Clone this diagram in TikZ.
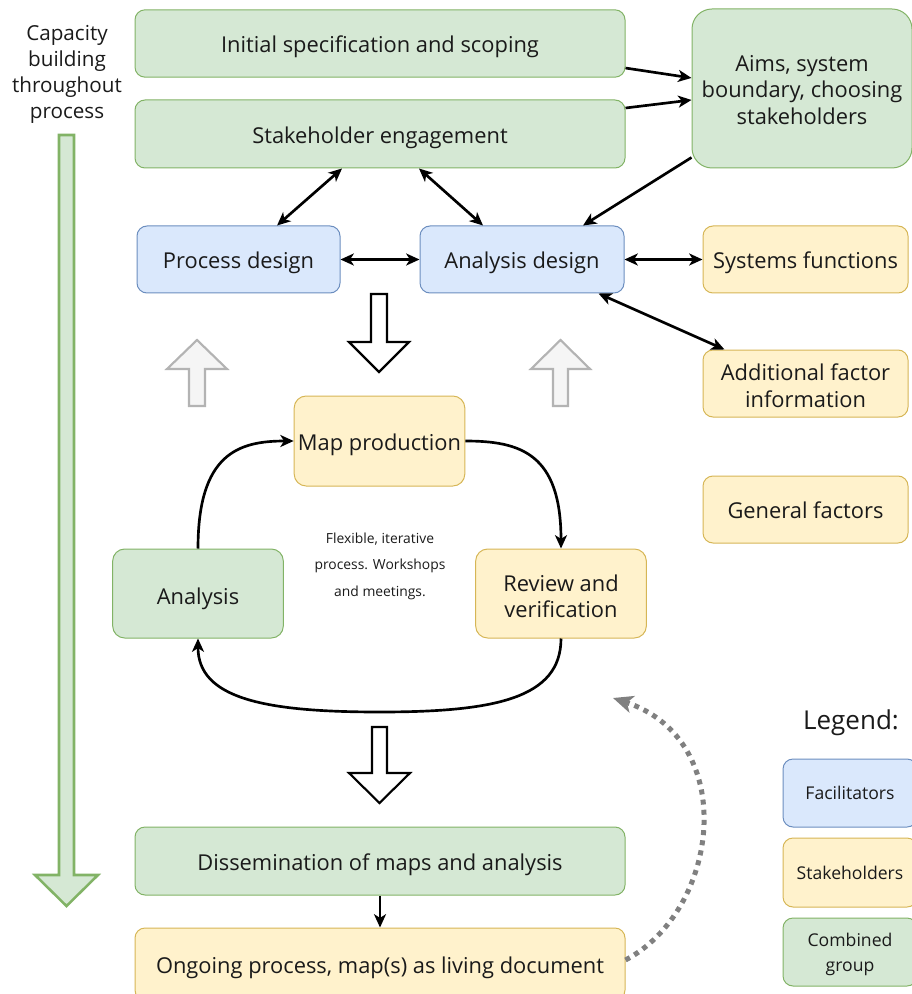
\documentclass[tikz,border=0pt]{standalone}
\usepackage{fontspec}
\setmainfont{Open Sans}
\usetikzlibrary{arrows.meta}
\definecolor{gfill}{HTML}{D5E8D4}
\definecolor{gline}{HTML}{82B366}
\definecolor{bfill}{HTML}{DAE8FC}
\definecolor{bline}{HTML}{6C8EBF}
\definecolor{yfill}{HTML}{FFF2CC}
\definecolor{yline}{HTML}{D6B656}
\definecolor{afill}{HTML}{F5F5F5}
\definecolor{aline}{HTML}{B3B3B3}
\definecolor{dotgray}{HTML}{808080}
\definecolor{txt}{HTML}{1A1A1A}
\newcommand\btxt[2][-3pt]{\raisebox{#1}[\height][\depth]{\begin{tabular}{@{}c@{}}#2\end{tabular}}}
\begin{document}
\begin{tikzpicture}[x=0.75pt,y=-0.75pt,
  box/.style={draw, rounded corners=7.5pt, line width=0.75pt, align=center, inner sep=0pt, text=txt,
    font=\fontsize{16.4}{20}\selectfont},
  gbox/.style={box, fill=gfill, draw=gline},
  bbox/.style={box, fill=bfill, draw=bline},
  ybox/.style={box, fill=yfill, draw=yline},
  wide/.style={minimum width=367.5pt, minimum height=50.5pt},
  mid/.style={minimum width=153pt, minimum height=50.25pt},
  loopbox/.style={minimum width=128pt, minimum height=67.5pt, rounded corners=9pt},
  legbox/.style={minimum width=100.5pt, minimum height=51pt, font=\fontsize{13.2}{18.5}\selectfont},
  >={Stealth[length=10pt,width=9pt,inset=2.8pt]},
  conn/.style={line width=2pt, draw=black},
  bigarrow/.style={draw=black, fill=white, line width=1.6pt, line join=miter},
  grayarrow/.style={draw=aline, fill=afill, line width=1.6pt, line join=miter},
  greenarrow/.style={draw=gline, fill=gfill, line width=1.9pt, line join=miter},
  dotconn/.style={draw=dotgray, line width=3.75pt, dash pattern=on 3.75pt off 3.9pt,
    -{Stealth[length=15pt,width=13pt,inset=4pt]}}
]
\useasboundingbox (0,0) rectangle (911,994);

% --- nodes ---
\node[gbox, wide] (init) at (380,43.5) {\btxt{Initial specification and scoping}};
\node[gbox, wide, minimum height=51pt] (stake) at (380,134) {\btxt{Stakeholder engagement}};
\node[gbox, minimum width=165pt, minimum height=119.25pt, rounded corners=15pt] (aims) at (802,88.5)
  {\btxt[-3pt]{Aims, system\\boundary, choosing\\stakeholders}};
\node[bbox, mid, minimum width=152.25pt] (procd) at (238.5,259.5) {\btxt{Process design}};
\node[bbox, mid] (anad) at (522,259.5) {\btxt{Analysis design}};
\node[ybox, mid, minimum width=153.75pt] (sysf) at (805.5,259.5) {\btxt{Systems functions}};
\node[ybox, mid, minimum width=153.75pt] (addf) at (805.5,383.5) {\btxt[-4pt]{Additional factor\\information}};
\node[ybox, mid, minimum width=153.75pt] (genf) at (805.5,509.5) {\btxt{General factors}};
\node[ybox, loopbox] (mapp) at (379.5,441) {\btxt{Map production}};
\node[gbox, loopbox, minimum height=66.75pt] (anal) at (198,593.5) {\btxt[-4pt]{Analysis}};
\node[ybox, loopbox, minimum height=66.75pt] (review) at (561,593.5) {\btxt[-4.2pt]{Review and\\verification}};
\node[gbox, wide, minimum height=51pt] (dissem) at (380,861) {\btxt{Dissemination of maps and analysis}};
\node[ybox, wide, minimum height=54pt] (ongoing) at (380,964) {\btxt{Ongoing process, map(s) as living document}};

\node[align=center, text=txt, font=\fontsize{10.4}{19.8}\selectfont] (flex) at (380,566)
  {Flexible, iterative\\process. Workshops\\and meetings.};
\node[align=center, text=txt, font=\fontsize{15.5}{19.5}\selectfont] (cap) at (67,74.5)
  {Capacity\\building\\throughout\\process};

\node[text=txt, font=\fontsize{19.5}{24}\selectfont] (legend) at (851,723) {Legend:};
\node[bbox, legbox] (lfac) at (850,793) {\btxt[-1.5pt]{Facilitators}};
\node[ybox, legbox, minimum height=51.75pt] (lsta) at (850,872.5) {\btxt[-1.5pt]{Stakeholders}};
\node[gbox, legbox] (lcom) at (850,952) {\btxt[-1.5pt]{Combined\\group}};

% --- connectors ---
\draw[conn,->] ([yshift=-18.4pt]init.east) -- ([yshift=7.9pt]aims.west);
\draw[conn,->] ([yshift=19.5pt]stake.east) -- ([yshift=-8.6pt]aims.west);
\draw[conn,->] ([yshift=8.25pt]aims.south west) -- ([xshift=45.75pt]anad.north);
\draw[conn,<->] ([xshift=-28.5pt]stake.south) -- ([xshift=28.9pt]procd.north);
\draw[conn,<->] ([xshift=29.25pt]stake.south) -- ([xshift=-29.25pt]anad.north);
\draw[conn,<->] (procd.east) -- (anad.west);
\draw[conn,<->] (anad.east) -- (sysf.west);
\draw[conn,<->] ([xshift=-19.5pt]anad.south east) -- ([xshift=16.5pt]addf.north west);

\draw[conn,->] (anal.north) .. controls +(0,-95) and +(-55,0) .. (mapp.west);
\draw[conn,->] (mapp.east) .. controls +(55,0) and +(0,-95) .. (review.north);
\coordinate (botmid) at (379.5,712);
\draw[conn,->] (review.south) .. controls +(0,60) and +(115,0) .. (botmid)
  .. controls +(-115,0) and +(0,60) .. (anal.south);

\draw[conn,->] (dissem.south) -- (ongoing.north);

\coordinate (dotend) at (613,698);
\draw[dotconn] ([yshift=3pt]ongoing.east) .. controls (720,910) and (740,740) .. (dotend);

% --- big hollow arrows ---
\draw[bigarrow] (371,294) -- (387,294) -- (387,342) -- (409,342) -- (379,372) -- (349,342) -- (371,342) -- cycle;
\draw[bigarrow] (372,727) -- (387,727) -- (387,773) -- (410,773) -- (379.5,803) -- (349,773) -- (372,773) -- cycle;
\draw[grayarrow] (189,406) -- (205,406) -- (205,369) -- (227,369) -- (197,340) -- (167,369) -- (189,369) -- cycle;
\draw[grayarrow] (553,406) -- (568,406) -- (568,369) -- (590,369) -- (560.5,340) -- (531,369) -- (553,369) -- cycle;
\draw[greenarrow] (59,135) -- (74,135) -- (74,875) -- (98,875) -- (66.5,906) -- (35,875) -- (59,875) -- cycle;
\end{tikzpicture}
\end{document}
